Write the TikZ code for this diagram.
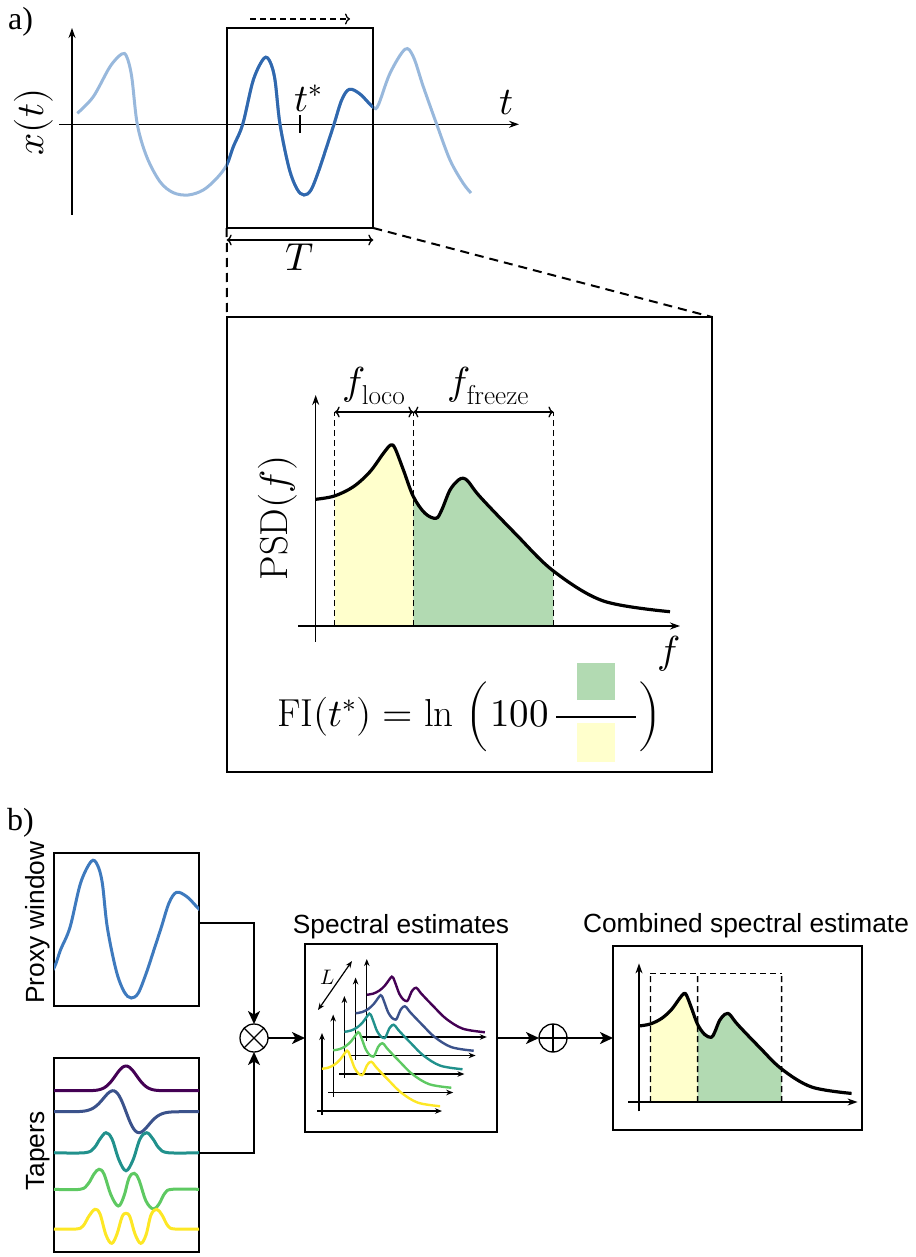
\documentclass[tikz,border=0pt]{standalone}
\usepackage{amsmath}
\usepackage{unicode-math}
\setmathfont{Latin Modern Math}
\usetikzlibrary{arrows.meta}
\newfontfamily\blocklabelfont{Liberation Sans}
\newfontfamily\panelfont{Liberation Serif}
\definecolor{sigpale}{RGB}{152,184,220}
\definecolor{sigdark}{RGB}{48,104,174}
\definecolor{proxyblue}{RGB}{62,122,190}
\definecolor{locofill}{RGB}{255,255,204}
\definecolor{freezefill}{RGB}{178,218,178}
\definecolor{vir0}{RGB}{68,1,84}
\definecolor{vir1}{RGB}{59,82,139}
\definecolor{vir2}{RGB}{33,145,140}
\definecolor{vir3}{RGB}{94,201,98}
\definecolor{vir4}{RGB}{253,231,37}
% the recorded signal x(t)
\newcommand{\signalline}{plot[smooth, tension=0.55] coordinates {(77.3,113.3) (93.3,96.7) (110,66.7) (121.7,54) (126.7,56.7) (131.7,76.7) (137.3,124.3) (146.7,156.7) (160,181.7) (173.3,192.7) (188.3,195) (203.3,190) (216.7,178.3) (226.7,165) (233.3,146.7) (242.7,124.3) (253.3,80) (264,58.3) (270,61.7) (275,80) (280,124.3) (289,168) (297,189) (304,195) (311,190) (319,170) (326.7,146.7) (334,124.3) (341.7,100) (349.3,89.3) (360,94) (373.3,107.3) (378.3,105) (390,73.3) (405,49.3) (413.3,56.7) (423.3,86.7) (436.7,124.3) (450,160) (463,183) (471,193)}}
% spectrum, origin at the axes
\newcommand{\psdline}{plot[smooth, tension=0.55] coordinates {(0,-126.7) (18.7,-130) (37.7,-139.3) (54.3,-154.3) (67.7,-172.7) (75,-181) (79.3,-177.7) (87.7,-156) (97.7,-129.3) (109.3,-112.7) (120.3,-107.7) (126,-116) (134.3,-136) (142.7,-146) (147.7,-147.7) (152.7,-144.3) (164.3,-129.3) (200,-92) (237.7,-55) (287.7,-25) (354.3,-14.3)}}

\begin{document}
\begin{tikzpicture}[x=1pt, y=-1pt,
  box/.style={draw, line width=2pt, inner sep=0pt, outer sep=0pt},
  mixer/.style={circle, draw, line width=1.3pt, minimum size=28pt, inner sep=0pt, outer sep=0pt},
  axis/.style={line width=1.3pt, -{Stealth[length=10pt, width=7pt]}},
  specaxis/.style={line width=1.2pt, -{Stealth[length=7pt, width=5.5pt]}},
  spanarrow/.style={line width=1.3pt, {Computer Modern Rightarrow[length=5pt, width=11pt]}-{Computer Modern Rightarrow[length=5pt, width=11pt]}},
  flow/.style={line width=2pt, -{Stealth[length=13pt, width=12pt, inset=3.5pt]}},
  bandline/.style={line width=1.3pt, dash pattern=on 6pt off 4pt},
  zoomline/.style={line width=2pt, dash pattern=on 9pt off 6pt},
  mathlabel/.style={inner sep=0pt, font=\fontsize{39}{46}\selectfont},
  blocklabel/.style={inner sep=0pt, font=\blocklabelfont\fontsize{26.3}{31}\selectfont},
  paneltag/.style={inner sep=0pt, font=\panelfont\fontsize{32}{38}\selectfont},
  psd/.pic={
    \begin{scope}
      \clip (19,10) rectangle (97.7,-250);
      \fill[locofill] \psdline -- (354.3,0) -- (0,0) -- cycle;
    \end{scope}
    \begin{scope}
      \clip (97.7,10) rectangle (237.7,-250);
      \fill[freezefill] \psdline -- (354.3,0) -- (0,0) -- cycle;
    \end{scope}
    \coordinate (-lo) at (19,-214);
    \coordinate (-mid) at (97.7,-214);
    \coordinate (-hi) at (237.7,-214);
    \draw[bandline] (19,0) -- (-lo);
    \draw[bandline] (97.7,0) -- (-mid);
    \draw[bandline] (237.7,0) -- (-hi);
    \draw[axis] (-17.7,0) -- (364.3,0);
    \draw[axis] (0,15.7) -- (0,-231);
    \draw[line width=3.2pt, line join=round] \psdline;
  }
]
\useasboundingbox (0,0) rectangle (915,1257);

% a) sliding window
\node[paneltag, anchor=base west] (atag) at (8,30) {a)};
\draw[axis] (59,124.3) -- (519,124.3);
\draw[axis] (72,215) -- (72,28);
\node[mathlabel, rotate=90] (xlab) at (34,122) {$x(t)$};
\node[mathlabel] (tlab) at (507,103) {$t$};
\draw[sigpale, line width=3pt] \signalline;
\node[box, minimum width=146.6pt, minimum height=200pt] (win) at (300,128) {};
\begin{scope}
  \clip (win.south west) rectangle (win.north east);
  \draw[sigdark, line width=3pt] \signalline;
\end{scope}
\draw[line width=1.3pt] (300,115) -- (300,133);
\node[mathlabel, anchor=base west] (tstar) at (294,111.7) {$t^*$};
\draw[bandline, -{Computer Modern Rightarrow[length=5pt, width=11pt]}]
  ([xshift=-50pt, yshift=9pt]win.north) -- ([xshift=50pt, yshift=9pt]win.north);
\draw[spanarrow] ([yshift=-12pt]win.south west) -- ([yshift=-12pt]win.south east)
  node[mathlabel, midway, below=3pt] (tlen) {$T$};

% zoomed spectrum
\node[box, minimum width=485pt, minimum height=455pt] (zoombox) at (469.5,544.5) {};
\draw[zoomline] (win.south west) -- (zoombox.north west);
\draw[zoomline] (win.south east) -- (zoombox.north east);
\pic (big) at (315.7,626) {psd};
\draw[spanarrow] (big-lo) -- (big-mid) node[mathlabel, midway, anchor=base, yshift=17.5pt] {$f_{\mathrm{loco}}$};
\draw[spanarrow] (big-mid) -- (big-hi) node[mathlabel, midway, anchor=base, xshift=5pt, yshift=17.5pt] {$f_{\mathrm{freeze}}$};
\node[mathlabel, rotate=90] (psdlab) at (278,518) {$\mathrm{PSD}(f)$};
\node[mathlabel] (flab) at (668.5,653.5) {$f$};
\node[mathlabel] (fi) at (469.5,712.5) {$\mathrm{FI}(t^*)=\ln\hspace{12pt}\mathopen{\left(\vrule height 40pt depth 22pt width 0pt\right.}100\hspace{6pt}\dfrac{\makebox[80pt]{\textcolor{freezefill}{\rule{38pt}{37pt}}}}{\makebox[80pt]{\textcolor{locofill}{\rule{38pt}{39pt}}}}\mathclose{\left.\vrule height 40pt depth 22pt width 0pt\right)}$};

% b) multitaper pipeline
\node[paneltag, anchor=base west] (btag) at (7,830) {b)};
\node[box, minimum width=145pt, minimum height=153pt] (proxy) at (126.5,929.5) {};
\node[box, minimum width=145pt, minimum height=194pt] (tapers) at (126.5,1155) {};
\node[blocklabel, rotate=90] (proxylab) at (38,922.5) {Proxy window};
\node[blocklabel, rotate=90] (taperlab) at (38,1151) {Tapers};
\begin{scope}
  \clip (proxy.south west) rectangle (proxy.north east);
  \draw[proxyblue, line width=3pt, shift={(-172.7,803)}] \signalline;
\end{scope}
\draw[vir0, line width=3pt] plot[domain=54:199, samples=90, smooth] (\x, {1090.7-24.7*exp(-0.5*((\x-126)/10.6)*((\x-126)/10.6))});
\draw[vir1, line width=3pt] plot[domain=54:199, samples=90, smooth] (\x, {1111.7+34.6*((\x-126)/13)*exp(-0.5*((\x-126)/13)*((\x-126)/13))});
\draw[vir2, line width=3pt] plot[smooth, tension=0.6] coordinates {(54,1152.7) (85,1152.7) (94,1148) (100,1139) (106,1132.7) (112,1139) (119,1160) (126,1170.7) (133,1160) (140,1139) (146.7,1132.7) (153,1139) (159,1148) (168,1152.7) (199,1152.7)};
\draw[vir3, line width=3pt] plot[smooth, tension=0.6] coordinates {(54,1189.3) (80,1189.3) (88,1184) (94,1174) (99,1169.3) (104,1174) (111,1195) (118.3,1206) (124,1196) (129,1178) (134.3,1173.3) (139,1180) (146,1201) (153.3,1209) (159,1204) (165,1193) (172,1189.3) (199,1189.3)};
\draw[vir4, line width=3pt] plot[smooth, tension=0.6] coordinates {(54,1229) (76,1229) (83,1226) (89,1216) (95,1209.3) (100,1214) (106,1235) (111.7,1243.3) (117,1234) (122,1217) (126,1213.3) (130,1217) (135,1234) (140.7,1243.3) (146,1235) (151,1215) (156.7,1209.3) (162,1215) (168,1226) (175,1229) (199,1229)};

\path (254,1038) node[mixer] (otimes) {}
      (401,1038) node[box, minimum width=192pt, minimum height=188pt] (spec) {}
      (553,1038) node[mixer] (oplus) {}
      (737.5,1038) node[box, minimum width=249pt, minimum height=184pt] (comb) {};
\draw[line width=1.3pt] (otimes.45) -- (otimes.225) (otimes.135) -- (otimes.315);
\draw[line width=1.3pt] (oplus.north) -- (oplus.south) (oplus.east) -- (oplus.west);
\node[blocklabel, anchor=base] (speclab) at ([yshift=11pt]spec.north) {Spectral estimates};
\node[blocklabel, anchor=base] (comblab) at ([xshift=8.5pt, yshift=14pt]comb.north) {Combined spectral estimate};

\draw[flow] ([yshift=6.5pt]proxy.east) -| (otimes.north);
\draw[flow] ([yshift=2pt]tapers.east) -| (otimes.south);
\draw[flow] (otimes.east) -- (spec.west);
\draw[flow] (spec.east) -- (oplus.west);
\draw[flow] (oplus.east) -- (comb.west);

% stacked taper spectra, back to front
\foreach \i/\col in {4/vir0, 3/vir1, 2/vir2, 1/vir3, 0/vir4} {
  \begin{scope}[shift={({322+11.2*\i},{1111-18.5*\i})}]
    \draw[specaxis] (-5,0) -- (120,0);
    \draw[specaxis] (0,4) -- (0,-78);
    \draw[\col, line width=2.4pt, scale=1/3] \psdline;
  \end{scope}
}
\coordinate (lfront) at (318,1010);
\coordinate (lback) at (352,961);
\draw[line width=1.2pt, {Stealth[length=7pt, width=5.5pt]}-{Stealth[length=7pt, width=5.5pt]}] (lfront) -- (lback);
\node[inner sep=0pt, font=\fontsize{21}{25}\selectfont] (llab) at (328,977) {$L$};

% combined estimate
\pic[scale=0.6] (cmb) at (639,1102) {psd};
\draw[bandline] (cmb-lo) -- (cmb-hi);
\end{tikzpicture}
\end{document}
